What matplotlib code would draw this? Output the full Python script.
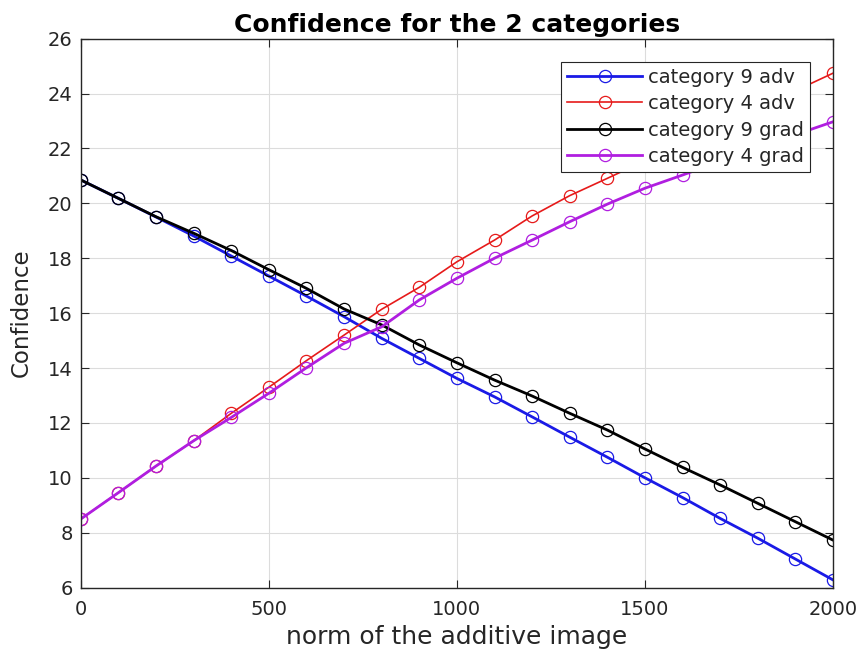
import matplotlib
matplotlib.use("Agg")
import matplotlib.pyplot as plt

# norm of the additive image
norm = [0, 100, 200, 300, 400, 500, 600, 700, 800, 900, 1000,
        1100, 1200, 1300, 1400, 1500, 1600, 1700, 1800, 1900, 2000]

cat9_adv = [20.85, 20.18, 19.50, 18.81, 18.08, 17.35, 16.62, 15.87, 15.08, 14.35, 13.62,
            12.95, 12.22, 11.48, 10.75, 10.00, 9.28, 8.52, 7.80, 7.04, 6.28]
cat4_adv = [8.50, 9.46, 10.43, 11.35, 12.35, 13.30, 14.27, 15.20, 16.14, 16.94, 17.87,
            18.66, 19.54, 20.28, 20.91, 21.55, 22.18, 22.82, 23.46, 24.10, 24.74]
cat9_grad = [20.85, 20.18, 19.51, 18.91, 18.28, 17.58, 16.90, 16.15, 15.57, 14.84, 14.19,
             13.56, 12.98, 12.35, 11.74, 11.05, 10.38, 9.74, 9.07, 8.40, 7.73]
cat4_grad = [8.50, 9.46, 10.43, 11.35, 12.20, 13.08, 14.01, 14.90, 15.50, 16.48, 17.27,
             18.00, 18.66, 19.33, 19.97, 20.55, 21.03, 21.53, 22.02, 22.50, 22.97]

labels = ["category 9 adv", "category 4 adv", "category 9 grad", "category 4 grad"]

plt.rcParams["font.family"] = ["DejaVu Sans"]

fig = plt.figure(figsize=(8.6, 6.6), dpi=100)
ax = fig.add_axes([0.094, 0.1097, 0.8746, 0.8318])

ms = 8.8
ax.plot(norm, cat9_adv, color="#1a1ae6", lw=2.0, marker="o", ms=ms, mfc="none",
        mec="#1a1ae6", mew=0.9, label=labels[0])
ax.plot(norm, cat4_adv, color="#e61a1a", lw=1.2, marker="o", ms=ms, mfc="none",
        mec="#e61a1a", mew=0.9, label=labels[1])
ax.plot(norm, cat9_grad, color="black", lw=2.0, marker="o", ms=ms, mfc="none",
        mec="black", mew=0.9, label=labels[2])
ax.plot(norm, cat4_grad, color="#b01ee0", lw=2.0, marker="o", ms=ms, mfc="none",
        mec="#b01ee0", mew=0.9, label=labels[3])

ax.set_xlim(0, 2000)
ax.set_ylim(6, 26)
ax.set_xticks([0, 500, 1000, 1500, 2000])
ax.set_yticks(range(6, 27, 2))
ax.grid(True, color="#dcdcdc", lw=0.8)
ax.set_axisbelow(True)
ax.tick_params(direction="in", top=True, right=True, length=6, width=0.8,
               labelsize=14, colors="#262626")
ax.tick_params(axis="x", pad=9)
ax.tick_params(axis="y", pad=6)
for s in ax.spines.values():
    s.set_color("#262626")
    s.set_linewidth(1.0)

ax.set_xlabel("norm of the additive image", fontsize=18, color="#262626", labelpad=4)
ax.set_ylabel("Confidence", fontsize=16.5, color="#262626", labelpad=11)
ax.set_title("Confidence for the 2 categories", fontsize=18, fontweight="bold", pad=5)

leg = ax.legend(loc="upper right", bbox_to_anchor=(0.9694, 0.9574), fontsize=14,
                frameon=True, fancybox=False, edgecolor="#262626", framealpha=1,
                borderpad=0.3, labelspacing=0.38, handlelength=3.9, handletextpad=0.3,
                borderaxespad=0)
leg.get_frame().set_linewidth(0.8)
for t in leg.get_texts():
    t.set_color("#262626")

fig.savefig("out.png", dpi=100)
